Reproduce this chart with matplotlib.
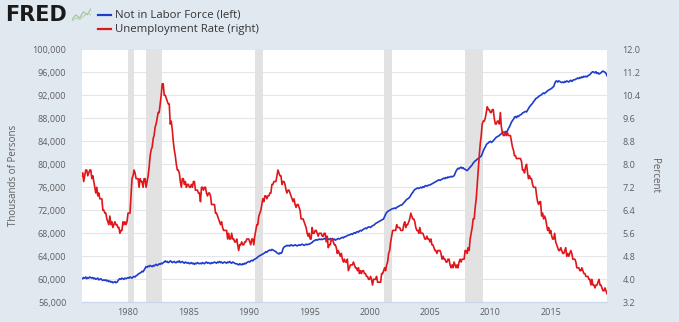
import matplotlib
matplotlib.use("Agg")
import matplotlib.pyplot as plt
import matplotlib.dates as mdates
import pandas as pd

# monthly values, Mar 1976 .. Sep 2019
not_in_labor_force = [
    60200, 60100, 60300, 60200, 60400, 60100, 60300, 60200, 60400, 60300,
    60200, 60300, 60100, 60200, 60000, 60100, 60200, 59900, 60000, 60100, 59900, 59800,
    59900, 59800, 59900, 59700, 59800, 59600, 59700, 59500, 59600, 59400, 59500, 59600,
    59400, 59500, 59700, 60000, 60100, 60000, 60200, 60100, 60000, 60200, 60100, 60200,
    60300, 60200, 60400, 60300, 60200, 60400, 60500, 60400, 60600, 60700, 60900, 61000,
    61100, 61200, 61400, 61300, 61600, 61900, 62200, 62100, 62300, 62200, 62400, 62300,
    62200, 62400, 62300, 62500, 62600, 62400, 62500, 62700, 62600, 62800, 62700, 62900,
    63000, 63200, 63000, 63100, 62900, 63000, 63200, 63100, 62900, 63000, 63100, 62900,
    62900, 63100, 63000, 63200, 62900, 63000, 63100, 62900, 62800, 63000, 62900, 62800,
    62900, 62700, 62800, 62900, 62700, 62800, 62600, 62800, 62700, 62900, 62800, 62700,
    62800, 62700, 62900, 62800, 62700, 62900, 63000, 62800, 62900, 62800, 62700, 62900,
    62800, 62900, 63000, 62900, 62800, 63000, 62900, 63100, 62900, 63000, 62800, 62900,
    63000, 62900, 62800, 63000, 62900, 63100, 62900, 62800, 63000, 62900, 62800, 62700,
    62700, 62600, 62500, 62700, 62600, 62500, 62700, 62600, 62800, 62700, 62900, 63000,
    63100, 63000, 63200, 63300, 63200, 63400, 63500, 63600, 63700, 63900, 64000, 64100,
    64200, 64300, 64400, 64500, 64600, 64800, 64700, 64900, 65000, 65100, 65000, 65200,
    65100, 65000, 64900, 64800, 64600, 64500, 64400, 64600, 64500, 64700, 65300, 65600,
    65700, 65800, 65900, 65800, 65900, 65800, 66000, 65900, 65800, 65900, 66000, 65900,
    65800, 65900, 66000, 65900, 66000, 66100, 66000, 65900, 66000, 66100, 66000, 66100,
    66100, 66200, 66300, 66400, 66600, 66700, 66800, 66900, 66800, 66900, 67000, 66900,
    67000, 66900, 67000, 67100, 67000, 66900, 67100, 67000, 66900, 67100, 67000, 67100,
    66900, 67000, 66800, 66900, 67000, 67100, 67000, 67100, 67200, 67300, 67200, 67400,
    67400, 67500, 67600, 67700, 67700, 67800, 67900, 67800, 68000, 68100, 68000, 68200,
    68300, 68200, 68400, 68500, 68400, 68600, 68700, 68800, 68900, 68800, 69000, 69100,
    69100, 69000, 69200, 69300, 69400, 69500, 69700, 69800, 69900, 70000, 70100, 70200,
    70300, 70400, 70500, 70900, 71300, 71600, 71800, 71900, 72000, 72100, 72200, 72300,
    72300, 72400, 72300, 72500, 72600, 72700, 72800, 72900, 72900, 73100, 73300, 73500,
    73700, 73900, 74000, 74100, 74300, 74600, 74900, 75100, 75400, 75600, 75700, 75800,
    75900, 75800, 75900, 76000, 75900, 76100, 76000, 76200, 76300, 76200, 76300, 76400,
    76400, 76500, 76600, 76700, 76800, 76900, 77000, 77100, 77200, 77300, 77200, 77300,
    77400, 77500, 77600, 77500, 77700, 77600, 77800, 77700, 77800, 77900, 77800, 77900,
    78000, 78400, 78800, 79100, 79300, 79200, 79400, 79500, 79300, 79400, 79200, 79100,
    79000, 78900, 79100, 79300, 79500, 79700, 79900, 80200, 80400, 80600, 80700, 80900,
    81000, 81100, 81300, 81400, 81800, 82300, 82700, 83000, 83400, 83600, 83700, 83900,
    84000, 83800, 83900, 84100, 84300, 84500, 84700, 84800, 84900, 85000, 85200, 85300,
    85500, 85600, 85500, 85700, 85600, 85800, 86200, 86500, 86900, 87300, 87600, 87800,
    88200, 88300, 88100, 88400, 88300, 88500, 88600, 88700, 88900, 89000, 89100, 89200,
    89100, 89400, 89700, 90000, 90200, 90400, 90600, 90900, 91100, 91400, 91500, 91600,
    91800, 91900, 92000, 92100, 92300, 92400, 92300, 92500, 92600, 92800, 92900, 93000,
    93100, 93200, 93400, 93500, 94000, 94400, 94500, 94300, 94500, 94400, 94300, 94200,
    94300, 94200, 94400, 94300, 94500, 94400, 94300, 94500, 94600, 94400, 94600, 94700,
    94700, 94800, 94900, 95000, 94900, 95100, 95000, 95200, 95100, 95300, 95200, 95300,
    95200, 95400, 95500, 95600, 95800, 96000, 96100, 96000, 95900, 96100, 95800, 95900,
    95700, 95800, 95900, 96100, 96200, 96100, 96000, 95800, 95400,
]

unemployment_rate = [
    7.6, 7.7, 7.4, 7.6, 7.8, 7.8, 7.6, 7.7, 7.8, 7.8,
    7.5, 7.6, 7.4, 7.2, 7.0, 7.2, 6.9, 7.0, 6.8, 6.8, 6.8, 6.4,
    6.4, 6.3, 6.3, 6.1, 6.0, 5.9, 6.2, 5.9, 6.0, 5.8, 5.9, 6.0,
    5.9, 5.9, 5.8, 5.8, 5.6, 5.7, 5.7, 6.0, 5.9, 6.0, 5.9, 6.0,
    6.3, 6.3, 6.3, 6.9, 7.5, 7.6, 7.8, 7.7, 7.5, 7.5, 7.5, 7.2,
    7.5, 7.4, 7.4, 7.2, 7.5, 7.5, 7.2, 7.4, 7.6, 7.9, 8.3, 8.5,
    8.6, 8.9, 9.0, 9.3, 9.4, 9.6, 9.8, 9.8, 10.1, 10.4, 10.8, 10.8,
    10.4, 10.4, 10.3, 10.2, 10.1, 10.1, 9.4, 9.5, 9.2, 8.8, 8.5, 8.3,
    8.0, 7.8, 7.8, 7.7, 7.4, 7.2, 7.5, 7.5, 7.3, 7.4, 7.2, 7.3,
    7.3, 7.2, 7.2, 7.3, 7.2, 7.4, 7.4, 7.1, 7.1, 7.1, 7.0, 7.0,
    6.7, 7.2, 7.2, 7.1, 7.2, 7.2, 7.0, 6.9, 7.0, 7.0, 6.9, 6.6,
    6.6, 6.6, 6.6, 6.3, 6.3, 6.2, 6.1, 6.0, 5.9, 6.0, 5.8, 5.7,
    5.7, 5.7, 5.7, 5.4, 5.6, 5.4, 5.4, 5.6, 5.4, 5.4, 5.3, 5.3,
    5.4, 5.2, 5.0, 5.2, 5.2, 5.3, 5.2, 5.2, 5.3, 5.3, 5.4, 5.4,
    5.4, 5.3, 5.2, 5.4, 5.4, 5.2, 5.5, 5.7, 5.9, 5.9, 6.2, 6.3,
    6.4, 6.6, 6.8, 6.7, 6.9, 6.9, 6.8, 6.9, 6.9, 7.0, 7.0, 7.3,
    7.3, 7.4, 7.4, 7.4, 7.6, 7.8, 7.7, 7.6, 7.6, 7.3, 7.4, 7.4,
    7.3, 7.1, 7.0, 7.1, 7.1, 7.0, 6.9, 6.8, 6.7, 6.8, 6.6, 6.5,
    6.6, 6.6, 6.5, 6.4, 6.1, 6.1, 6.1, 6.0, 5.9, 5.8, 5.6, 5.5,
    5.6, 5.4, 5.4, 5.8, 5.6, 5.6, 5.7, 5.7, 5.6, 5.5, 5.6, 5.6,
    5.6, 5.5, 5.5, 5.6, 5.6, 5.3, 5.5, 5.1, 5.2, 5.2, 5.4, 5.4,
    5.3, 5.2, 5.2, 5.1, 4.9, 5.0, 4.9, 4.8, 4.9, 4.7, 4.6, 4.7,
    4.6, 4.6, 4.7, 4.3, 4.4, 4.5, 4.5, 4.5, 4.6, 4.5, 4.4, 4.4,
    4.3, 4.4, 4.2, 4.3, 4.2, 4.3, 4.3, 4.2, 4.2, 4.1, 4.1, 4.0,
    4.0, 4.1, 4.0, 3.8, 4.0, 4.0, 4.0, 4.1, 3.9, 3.9, 3.9, 3.9,
    4.2, 4.2, 4.3, 4.4, 4.3, 4.5, 4.6, 4.9, 5.0, 5.3, 5.5, 5.7,
    5.7, 5.7, 5.7, 5.9, 5.8, 5.8, 5.8, 5.7, 5.7, 5.7, 5.9, 6.0,
    5.8, 5.9, 5.9, 6.0, 6.1, 6.3, 6.2, 6.1, 6.1, 6.0, 5.8, 5.7,
    5.7, 5.6, 5.8, 5.6, 5.6, 5.6, 5.5, 5.4, 5.4, 5.5, 5.4, 5.4,
    5.3, 5.4, 5.2, 5.2, 5.1, 5.0, 5.0, 4.9, 5.0, 5.0, 5.0, 4.9,
    4.7, 4.8, 4.7, 4.7, 4.6, 4.6, 4.7, 4.7, 4.5, 4.4, 4.5, 4.4,
    4.6, 4.5, 4.4, 4.5, 4.4, 4.6, 4.7, 4.6, 4.7, 4.7, 4.7, 5.0,
    5.0, 4.9, 5.1, 5.0, 5.4, 5.6, 5.8, 6.1, 6.1, 6.5, 6.8, 7.3,
    7.8, 8.3, 8.7, 9.0, 9.4, 9.5, 9.5, 9.6, 9.8, 10.0, 9.9, 9.9,
    9.8, 9.8, 9.9, 9.9, 9.6, 9.4, 9.4, 9.5, 9.5, 9.4, 9.8, 9.3,
    9.1, 9.0, 9.0, 9.1, 9.0, 9.1, 9.0, 9.0, 9.0, 8.8, 8.6, 8.5,
    8.3, 8.3, 8.2, 8.2, 8.2, 8.2, 8.2, 8.1, 7.8, 7.8, 7.7, 7.9,
    8.0, 7.7, 7.5, 7.6, 7.5, 7.5, 7.3, 7.2, 7.2, 7.2, 6.9, 6.7,
    6.6, 6.7, 6.7, 6.2, 6.3, 6.1, 6.2, 6.1, 5.9, 5.7, 5.8, 5.6,
    5.7, 5.5, 5.4, 5.4, 5.6, 5.3, 5.2, 5.1, 5.0, 5.0, 5.1, 5.0,
    4.9, 4.9, 5.0, 5.1, 4.8, 4.9, 4.8, 4.9, 5.0, 4.9, 4.7, 4.7,
    4.7, 4.6, 4.4, 4.4, 4.4, 4.3, 4.3, 4.4, 4.3, 4.2, 4.2, 4.1,
    4.1, 4.1, 4.0, 4.0, 3.8, 4.0, 3.8, 3.8, 3.7, 3.8, 3.8, 3.9,
    4.0, 3.8, 3.8, 3.7, 3.6, 3.6, 3.7, 3.6, 3.5,
]

recessions = [
    ("1980-01-01", "1980-07-01"),
    ("1981-07-01", "1982-11-01"),
    ("1990-07-01", "1991-03-01"),
    ("2001-03-01", "2001-11-01"),
    ("2007-12-01", "2009-06-01"),
]

left_ticks = list(range(56000, 100001, 4000))
right_ticks = [3.2, 4.0, 4.8, 5.6, 6.4, 7.2, 8.0, 8.8, 9.6, 10.4, 11.2, 12.0]

BLUE = "#1d3ccc"
RED = "#e0161b"
GREY_TEXT = "#5e5e5e"

plt.rcParams['font.family'] = ['Open Sans', 'DejaVu Sans']

dates = pd.date_range("1976-03-01", periods=len(unemployment_rate), freq="MS")
nilf_dates = pd.date_range("1976-03-01", periods=len(not_in_labor_force), freq="MS")

fig = plt.figure(figsize=(6.79, 3.22), dpi=100, facecolor="#e1e9f0")
ax = fig.add_axes([0.1203, 0.0612, 0.7737, 0.7858])
ax.set_facecolor("white")
ax2 = ax.twinx()

for start, end in recessions:
    ax.axvspan(pd.Timestamp(start), pd.Timestamp(end), color="#e2e2e2", lw=0, zorder=1)

ax.plot(nilf_dates, not_in_labor_force, color=BLUE, lw=1.2, zorder=3)
ax2.plot(dates, unemployment_rate, color=RED, lw=1.2, zorder=3)

ax.set_xlim(dates[0], dates[-1])
ax.set_ylim(56000, 100000)
ax2.set_ylim(3.2, 12.0)
ax.set_yticks(left_ticks)
ax.set_yticklabels([f"{v:,}" for v in left_ticks])
ax2.set_yticks(right_ticks)
ax2.set_yticklabels([f"{v:.1f}" for v in right_ticks])
ax.yaxis.grid(True, color="#e6e6e6", lw=0.8, zorder=0)
ax.set_axisbelow(True)

ax.xaxis.set_major_locator(mdates.YearLocator(5))
ax.xaxis.set_major_formatter(mdates.DateFormatter("%Y"))

for a in (ax, ax2):
    for side in ("top", "left", "right"):
        a.spines[side].set_visible(False)
    a.spines["bottom"].set_color("#ccd6eb")
    a.tick_params(axis="both", length=0, labelsize=6.5, labelcolor=GREY_TEXT)
ax.tick_params(axis="y", pad=11)
ax2.tick_params(axis="y", pad=11)
ax.tick_params(axis="x", pad=4)

ax.set_ylabel("Thousands of Persons", fontsize=7, color=GREY_TEXT, labelpad=10)
ax2.set_ylabel("Percent", fontsize=7, color=GREY_TEXT, rotation=270, labelpad=14)

# header: logo and legend
fig.text(0.008, 0.952, "FRED", fontsize=15, fontweight="heavy", color="#1a1a1a",
         family="DejaVu Sans", va="center", ha="left")
icon = fig.add_axes([0.106, 0.93, 0.028, 0.048])
icon.plot([0, 1, 2, 3, 4, 5], [0.2, 0.5, 0.3, 0.7, 0.5, 0.9], color="#9fc49a", lw=0.8)
icon.plot([0, 1, 2, 3, 4, 5], [0.1, 0.3, 0.2, 0.4, 0.6, 0.5], color="#b8cbb6", lw=0.8)
icon.set_xlim(0, 5)
icon.set_ylim(0, 1)
icon.axis("off")

fig.add_artist(plt.Line2D([0.145, 0.163], [0.953, 0.953], color=BLUE, lw=1.6))
fig.add_artist(plt.Line2D([0.145, 0.163], [0.909, 0.909], color=RED, lw=1.6))
fig.text(0.170, 0.953, "Not in Labor Force (left)", fontsize=8.2, color="#333333", va="center")
fig.text(0.170, 0.909, "Unemployment Rate (right)", fontsize=8.2, color="#333333", va="center")

fig.savefig("out.png", dpi=100, facecolor=fig.get_facecolor())
